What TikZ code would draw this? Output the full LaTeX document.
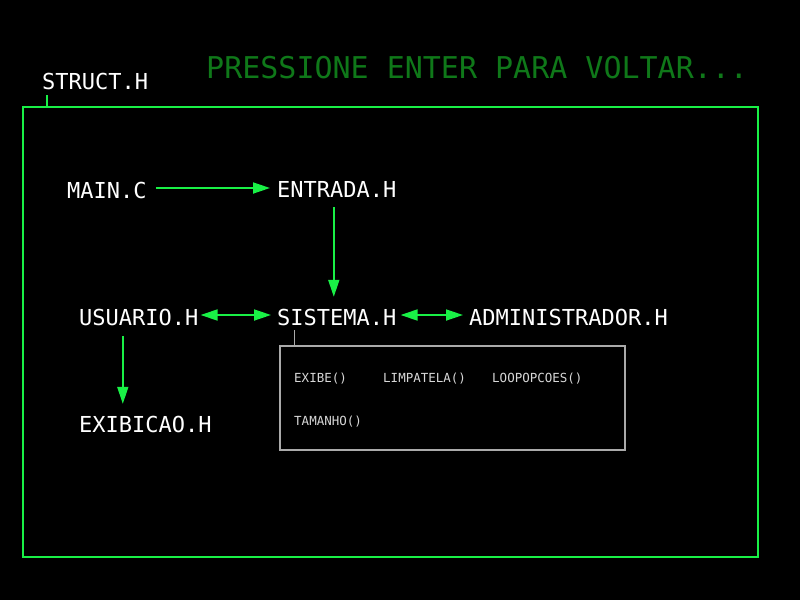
\documentclass[tikz,border=0pt]{standalone}
\usepackage{fontspec}
\setmonofont{DejaVu Sans Mono}
\usetikzlibrary{arrows.meta}
\definecolor{grn}{RGB}{25,240,70}
\definecolor{dgrn}{RGB}{15,120,25}
\definecolor{boxgray}{RGB}{170,170,170}
\definecolor{ltxt}{RGB}{215,215,215}
\tikzset{
  lbl/.style={anchor=base west, inner sep=0pt, text height=20pt, text depth=0pt, text=white, font=\ttfamily\fontsize{22}{22}\selectfont},
  small/.style={anchor=base west, inner sep=0pt, text=ltxt, font=\ttfamily\fontsize{12.5}{12.5}\selectfont},
  arr/.style={draw=grn, line width=1.8pt, -{Triangle[length=17pt,width=11pt]}},
  darr/.style={draw=grn, line width=1.8pt, {Triangle[length=17pt,width=11pt]}-{Triangle[length=17pt,width=11pt]}},
}
\begin{document}
\begin{tikzpicture}[x=1pt,y=-1pt]
\fill[black] (0,0) rectangle (800,600);
\useasboundingbox (0,0) rectangle (800,600);
% title
\node[anchor=base west, inner sep=0pt, text=dgrn, font=\ttfamily\fontsize{30}{30}\selectfont] (title) at (206,78) {PRESSIONE ENTER PARA VOLTAR...};
% frame
\node[draw=grn, line width=1.8pt, minimum width=735pt, minimum height=450pt, inner sep=0pt] (frame) at (390.5,332) {};
\node[lbl] (struct) at (42,89) {STRUCT.H};
\draw[grn, line width=1.8pt] ([xshift=25pt]frame.north west) -- ++(0,-11);
% labels
\node[lbl] (main) at (67,198) {MAIN.C};
\node[lbl] (entrada) at (277,197) {ENTRADA.H};
\node[lbl] (usuario) at (79,325) {USUARIO.H};
\node[lbl] (sistema) at (277,325) {SISTEMA.H};
\node[lbl] (admin) at (469,325) {ADMINISTRADOR.H};
\node[lbl] (exibicao) at (79,432) {EXIBICAO.H};
% arrows
\draw[arr, shorten <=9pt, shorten >=7pt] (main.east) -- (main.east -| entrada.west);
\draw[arr, shorten <=10pt, shorten >=8pt] ([xshift=-3pt]entrada.south) -- ([xshift=-3pt]entrada.south |- sistema.north);
\draw[darr, shorten <=2pt, shorten >=6pt] (usuario.east |- sistema.west) -- (sistema.west);
\draw[darr, shorten <=4pt, shorten >=6pt] (sistema.east) -- (admin.west);
\draw[arr, shorten <=11pt, shorten >=8pt] ([xshift=-16pt]usuario.south) -- ([xshift=-16pt]usuario.south |- exibicao.north);
% system box
\node[draw=boxgray, line width=1.6pt, minimum width=345pt, minimum height=104pt, inner sep=0pt] (sysbox) at (452.5,398) {};
\draw[boxgray, line width=1pt] ([xshift=15pt]sysbox.north west) -- ++(0,-15);
\node[small] (exibe) at (294,382) {EXIBE()};
\node[small] (limpa) at (383,382) {LIMPATELA()};
\node[small] (loop) at (492,382) {LOOPOPCOES()};
\node[small] (tam) at (294,425) {TAMANHO()};
\end{tikzpicture}
\end{document}
